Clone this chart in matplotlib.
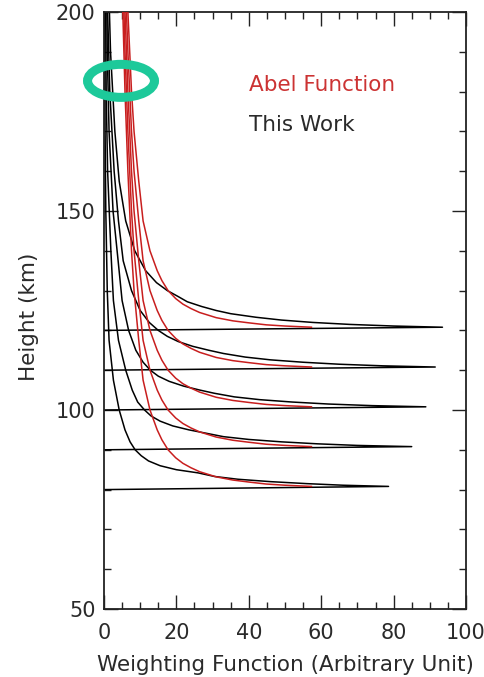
import numpy as np
import matplotlib
matplotlib.use('Agg')
import matplotlib.pyplot as plt
from matplotlib.patches import Ellipse
from matplotlib.ticker import MultipleLocator

plt.rcParams['font.family'] = ['DejaVu Sans']

# tangent heights of the five weighting functions (km)
tangent_heights = [80, 90, 100, 110, 120]

# "This Work": height above tangent (km) and weighting values per tangent height
work_dz = [0, 0.8, 1.1, 1.5, 2.0, 2.6, 3.3, 4.2, 5.0, 6.0, 7.2, 8.5, 10,
           12, 15, 20, 27.5, 37.5, 50, 70, 90, 120]
work_80 = [0, 78.6, 66, 56, 46, 37, 30.5, 26, 20, 15.5, 12.3, 10.3, 8.6,
           7.2, 5.8, 4.2, 2.6, 1.4, 0.9, 0.5, 0.3, 0.2]
work_90 = [0, 85.0, 70, 59, 49, 40, 33, 28, 23.5, 19, 15.5, 13, 11.2,
           9.3, 7.8, 6.0, 4.0, 2.6, 1.9, 1.0, 0.6, 0.4]
work_100 = [0, 88.9, 74, 62, 52, 43, 36, 30.5, 26.5, 22, 18, 15, 12.8,
            10.8, 8.8, 6.8, 5.0, 3.9, 2.5, 1.4, 0.9, 0.6]
work_110 = [0, 91.5, 77, 65, 55, 46, 39, 33, 29, 24.5, 20.5, 17.5, 15,
            12.5, 10, 7.6, 5.3, 4.0, 2.8, 1.6, 1.0, 0.7]
work_120 = [0, 93.5, 80, 68, 57.7, 49, 42, 35, 31, 27, 23, 20.5, 17.5,
            14.5, 11.5, 8.5, 6.0, 4.2, 3.0, 1.8, 1.2, 0.8]
work_values = [work_80, work_90, work_100, work_110, work_120]

# Abel function: same profile for every tangent height
abel_dz = [0.8, 1.1, 1.4, 1.9, 2.4, 3.2, 4.5, 5.5, 6.6, 8, 10, 12.5, 15,
           20, 27.5, 37.5, 50, 60, 80, 100, 120]
abel_w = [57.3, 50, 44.8, 40, 35.6, 31, 26.4, 24, 21.8, 19.8, 17.7, 16,
          14.7, 12.7, 10.8, 9.6, 8.3, 7.6, 6.6, 5.8, 5.2]

red = '#C81E1E'
txt = '#2a2a2a'

fig = plt.figure(figsize=(4.85, 6.77), dpi=100)
ax = fig.add_axes([104/485, 1-609/677, 362/485, 597/677])

for zt, w in zip(tangent_heights, work_values):
    ax.plot(w, zt + np.array(work_dz), color='black', lw=1.1, zorder=2)
for zt in tangent_heights:
    ax.plot(abel_w, zt + np.array(abel_dz), color=red, lw=1.1, zorder=3)

ax.set_xlim(0, 100)
ax.set_ylim(50, 200)
ax.xaxis.set_major_locator(MultipleLocator(20))
ax.xaxis.set_minor_locator(MultipleLocator(5))
ax.yaxis.set_major_locator(MultipleLocator(50))
ax.yaxis.set_minor_locator(MultipleLocator(10))
ax.tick_params(which='both', direction='in', top=True, right=True,
               width=1.0, colors='#222222', labelsize=15, labelcolor=txt)
ax.tick_params(which='major', length=10)
ax.tick_params(which='minor', length=5)
ax.tick_params(axis='x', pad=10)
ax.tick_params(axis='y', pad=6)
for s in ax.spines.values():
    s.set_linewidth(1.3)
    s.set_color('#222222')

ax.set_xlabel('Weighting Function (Arbitrary Unit)', fontsize=15.5, color=txt)
ax.xaxis.set_label_coords(0.5, -0.077)
ax.set_ylabel('Height (km)', fontsize=15.5, color=txt)
ax.yaxis.set_label_coords(-0.18, 0.49)

ax.text(0.4, 0.878, 'Abel Function', transform=ax.transAxes, color='#CC3333',
        fontsize=15.5, va='center')
ax.text(0.4, 0.811, 'This Work', transform=ax.transAxes, color=txt,
        fontsize=15.5, va='center')

ring = Ellipse((4.7, 182.7), width=18.5, height=8.3, fill=False,
               ec='#1DC99A', lw=6.5, clip_on=False, zorder=5)
ax.add_patch(ring)

fig.savefig('out.png', dpi=100)
